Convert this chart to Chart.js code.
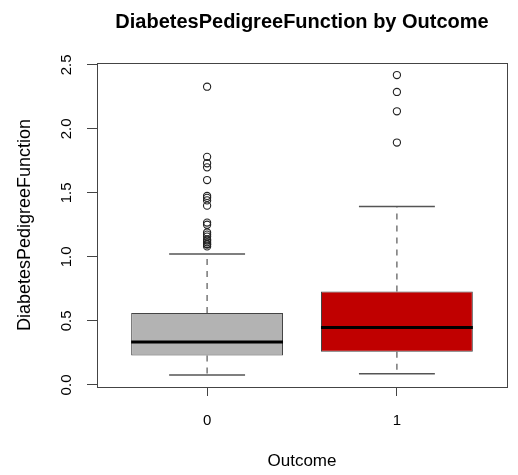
<!DOCTYPE html>
<html>
<head>
<meta charset="utf-8">
<title>DiabetesPedigreeFunction by Outcome</title>
<script src="https://cdn.jsdelivr.net/npm/chart.js@4/dist/chart.umd.min.js"></script>
<style>
  html, body { margin: 0; padding: 0; background: #fff; }
  #wrap { width: 518px; height: 475px; }
</style>
</head>
<body>
<div id="wrap"><canvas id="boxChart" width="518" height="475"></canvas></div>
<script>
// box summary per outcome group
const outcomes = ['0', '1'];
const xPos = [1, 2];
const whiskerLow = [0.078, 0.088];
const q1 = [0.230, 0.259];
const medians = [0.336, 0.449];
const q3 = [0.562, 0.729];
const whiskerHigh = [1.023, 1.394];
const outliers0 = [2.329, 1.781, 1.731, 1.699, 1.600, 1.476, 1.461, 1.441, 1.400,
  1.268, 1.251, 1.191, 1.174, 1.159, 1.136, 1.127, 1.114, 1.101, 1.096, 1.082];
const outliers1 = [2.420, 2.288, 2.137, 1.893];
const yTicks = [0, 0.5, 1, 1.5, 2, 2.5];
const boxColors = ['#B3B3B3', '#C00000'];

Chart.defaults.font.family = "'Liberation Sans', Arial, Helvetica, sans-serif";
Chart.defaults.color = '#000';

const HALF_BOX = 0.4;
const HALF_CAP = 0.2;

// segments joined into one line dataset, split by null gaps
function segments(list) {
  const pts = [];
  list.forEach(s => {
    pts.push({x: s[0], y: s[1]}, {x: s[2], y: s[3]}, {x: s[2], y: null});
  });
  return pts;
}

const whiskerSegs = [];
const capSegs = [];
const medianSegs = [];
xPos.forEach((x, i) => {
  whiskerSegs.push([x, q3[i], x, whiskerHigh[i]]);
  whiskerSegs.push([x, q1[i], x, whiskerLow[i]]);
  capSegs.push([x - HALF_CAP, whiskerHigh[i], x + HALF_CAP, whiskerHigh[i]]);
  capSegs.push([x - HALF_CAP, whiskerLow[i], x + HALF_CAP, whiskerLow[i]]);
  medianSegs.push([x - HALF_BOX, medians[i], x + HALF_BOX, medians[i]]);
});

const outlierPts = outliers0.map(v => ({x: xPos[0], y: v}))
  .concat(outliers1.map(v => ({x: xPos[1], y: v})));

// frame round the plot area
const plotFrame = {
  id: 'plotFrame',
  afterDraw(chart) {
    const a = chart.chartArea;
    const ctx = chart.ctx;
    ctx.save();
    ctx.strokeStyle = '#444';
    ctx.lineWidth = 1;
    ctx.strokeRect(Math.round(a.left) + 0.5, Math.round(a.top) + 0.5,
      Math.round(a.right - a.left), Math.round(a.bottom - a.top));
    ctx.restore();
  }
};

const lineBase = {
  type: 'line',
  pointRadius: 0,
  pointHoverRadius: 0,
  fill: false,
  tension: 0,
  spanGaps: false
};

new Chart(document.getElementById('boxChart'), {
  type: 'bar',
  data: {
    datasets: [
      Object.assign({}, lineBase, {
        label: 'whiskers',
        data: segments(whiskerSegs),
        borderColor: '#555',
        borderWidth: 1.2,
        borderDash: [6, 6],
        order: 3
      }),
      Object.assign({}, lineBase, {
        label: 'caps',
        data: segments(capSegs),
        borderColor: '#555',
        borderWidth: 1.5,
        order: 3
      }),
      {
        label: 'boxes',
        data: xPos.map((x, i) => ({x: x, y: [q1[i], q3[i]]})),
        backgroundColor: boxColors,
        borderColor: '#444',
        borderWidth: 1,
        borderSkipped: false,
        barPercentage: 0.8,
        categoryPercentage: 1,
        order: 2
      },
      Object.assign({}, lineBase, {
        label: 'medians',
        data: segments(medianSegs),
        borderColor: '#000',
        borderWidth: 3,
        order: 1
      }),
      {
        type: 'scatter',
        label: 'outliers',
        data: outlierPts,
        pointStyle: 'circle',
        pointRadius: 3.6,
        pointBorderWidth: 1.1,
        pointBorderColor: '#222',
        pointBackgroundColor: 'rgba(0,0,0,0)',
        order: 0
      }
    ]
  },
  options: {
    responsive: false,
    animation: false,
    events: [],
    layout: { padding: { left: 0, right: 11, top: 0, bottom: 0 } },
    plugins: {
      legend: { display: false },
      tooltip: { enabled: false },
      title: {
        display: true,
        text: 'DiabetesPedigreeFunction by Outcome',
        fullSize: false,
        font: { size: 20, weight: 'bold' },
        color: '#000',
        padding: { top: 10, bottom: 29 }
      }
    },
    scales: {
      x: {
        type: 'linear',
        min: 0.42,
        max: 2.58,
        offset: false,
        afterBuildTicks: s => { s.ticks = xPos.map(v => ({value: v})); },
        afterFit: s => { s.height = 88; },
        ticks: {
          callback: v => outcomes[xPos.indexOf(v)],
          font: { size: 15 },
          padding: 16,
          maxRotation: 0,
          autoSkip: false
        },
        grid: { offset: false, drawOnChartArea: false, tickLength: 9, color: '#444' },
        border: { display: false },
        title: {
          display: true,
          text: 'Outcome',
          font: { size: 17 },
          padding: { top: 0, bottom: 3 }
        }
      },
      y: {
        type: 'linear',
        min: -0.016,
        max: 2.514,
        afterBuildTicks: s => { s.ticks = yTicks.map(v => ({value: v})); },
        afterFit: s => { s.width = 97; },
        ticks: {
          callback: v => v.toFixed(1),
          font: { size: 15 },
          minRotation: 90,
          maxRotation: 90,
          crossAlign: 'center',
          padding: 10
        },
        grid: { drawOnChartArea: false, tickLength: 10, color: '#444' },
        border: { display: false },
        title: {
          display: true,
          text: 'DiabetesPedigreeFunction',
          font: { size: 18 },
          padding: { top: 14, bottom: 0 }
        }
      }
    }
  },
  plugins: [plotFrame]
});
</script>
</body>
</html>
